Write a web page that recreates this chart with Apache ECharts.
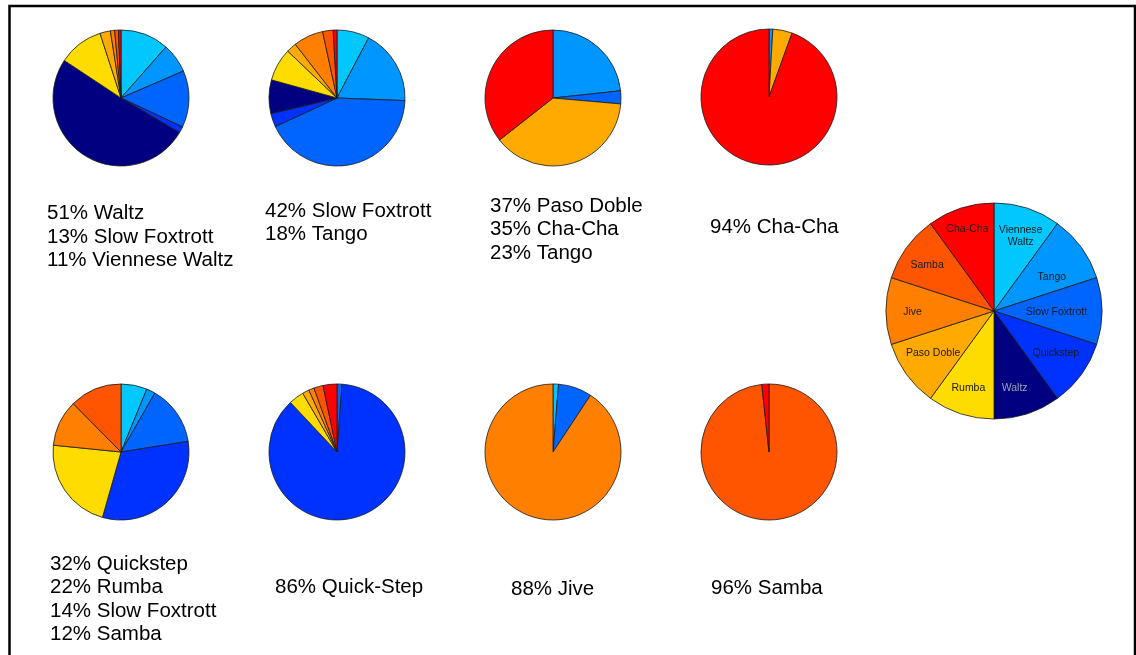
<!DOCTYPE html>
<html>
<head>
<meta charset="utf-8">
<script src="https://cdn.jsdelivr.net/npm/echarts@6/dist/echarts.min.js"></script>
<style>
  html, body { margin: 0; padding: 0; background: #fff; }
  #danceChart { width: 1136px; height: 655px; }
</style>
</head>
<body>
<div id="danceChart"></div>
<script>
// dances, clockwise from 12 o'clock
const dances = ['Viennese Waltz', 'Tango', 'Slow Foxtrott', 'Quickstep', 'Waltz',
                'Rumba', 'Paso Doble', 'Jive', 'Samba', 'Cha-Cha'];
const danceColors = ['#00c8ff', '#0096ff', '#0064ff', '#0032ff', '#000080',
                     '#ffdc00', '#ffaa00', '#ff8000', '#ff5500', '#ff0000'];

// share of each dance (%) per cluster
const shares1 = [11.5, 7, 13.5, 1.5, 50.8, 10.7, 2.5, 1, 0.9, 0.6];
const shares2 = [7.7, 17.9, 42.5, 3.2, 8, 7.8, 2.4, 7.1, 2.5, 0.9];
const shares3 = [0, 23.3, 3.1, 0, 0, 0, 38, 0, 0, 35.6];
const shares4 = [0, 0.9, 0, 0, 0, 0, 4.6, 0, 0, 94.5];
const shares5 = [6.2, 2.1, 14.2, 31.9, 0, 22.2, 0, 11, 12.4, 0];
const shares6 = [0, 0, 1.2, 86.8, 0, 3.6, 1.6, 1.3, 2.2, 3.3];
const shares7 = [1.3, 0, 8, 0, 0, 0, 0, 90.7, 0, 0];
const shares8 = [0, 0, 0, 0, 0, 0, 0, 0, 98.3, 1.7];
const legendShares = [1, 1, 1, 1, 1, 1, 1, 1, 1, 1];

// captions under each pie
const caption1 = ['51% Waltz', '13% Slow Foxtrott', '11% Viennese Waltz'];
const caption2 = ['42% Slow Foxtrott', '18% Tango'];
const caption3 = ['37% Paso Doble', '35% Cha-Cha', '23% Tango'];
const caption4 = ['94% Cha-Cha'];
const caption5 = ['32% Quickstep', '22% Rumba', '14% Slow Foxtrott', '12% Samba'];
const caption6 = ['86% Quick-Step'];
const caption7 = ['88% Jive'];
const caption8 = ['96% Samba'];

const allShares = [shares1, shares2, shares3, shares4, shares5, shares6, shares7, shares8];
const allCaptions = [caption1, caption2, caption3, caption4, caption5, caption6, caption7, caption8];

// layout
const pieCenters = [[121, 98], [337, 98], [553, 98], [769, 97],
                    [121, 452], [337, 452], [553, 452], [769, 452]];
const captionPos = [[47, 213.5], [265, 211], [490, 206], [710, 227],
                    [50, 564], [275, 587], [511, 589], [711, 588]];
const lineGap = 23.6;
const pieRadius = 68;
const legendCenter = [994, 311];
const legendRadius = 108;
// small nudges so the legend names sit where the original put them
const legendLabelNudge = [[3, -2], [-4, 11], [-14, 1], [0, -3], [-3, 4],
                          [-2, 4], [1, -3], [-5, 1], [-5, -1], [-3, -9]];
const FONT = '"Liberation Sans", Arial, Helvetica, sans-serif';

const chart = echarts.init(document.getElementById('danceChart'), null, { renderer: 'canvas' });

function sliceData(shares) {
  return dances.map((name, i) => ({
    name: name,
    value: shares[i],
    itemStyle: { color: danceColors[i] }
  })).filter(d => d.value > 0);
}

const series = allShares.map((shares, k) => ({
  type: 'pie',
  center: pieCenters[k],
  radius: [0, pieRadius],
  startAngle: 90,
  clockwise: true,
  silent: true,
  label: { show: false },
  labelLine: { show: false },
  itemStyle: { borderColor: '#1a1a1a', borderWidth: 0.8 },
  emphasis: { disabled: true },
  data: sliceData(shares)
}));

// legend pie: filled slices
series.push({
  type: 'pie',
  center: legendCenter,
  radius: [0, legendRadius],
  startAngle: 90,
  silent: true,
  label: { show: false },
  labelLine: { show: false },
  itemStyle: { borderColor: '#1a1a1a', borderWidth: 0.8 },
  emphasis: { disabled: true },
  data: sliceData(legendShares)
});
// legend pie: names, placed further out than the default inside position
series.push({
  type: 'pie',
  center: legendCenter,
  radius: [legendRadius * 0.36, legendRadius],
  startAngle: 90,
  silent: true,
  z: 5,
  labelLine: { show: false },
  itemStyle: { color: 'transparent', borderWidth: 0 },
  emphasis: { disabled: true },
  label: {
    show: true,
    position: 'inside',
    fontFamily: FONT,
    fontSize: 10.5,
    lineHeight: 12,
    color: '#1a1a1a',
    formatter: p => p.name === 'Viennese Waltz' ? 'Viennese\nWaltz' : p.name
  },
  data: dances.map((name, i) => ({
    name: name,
    value: legendShares[i],
    label: Object.assign(
      { offset: legendLabelNudge[i] },
      name === 'Waltz' ? { color: '#a0a0b4' } : {}
    )
  }))
});

const texts = [];
allCaptions.forEach((lines, k) => {
  lines.forEach((line, j) => {
    texts.push({
      type: 'text',
      x: captionPos[k][0],
      y: captionPos[k][1] + j * lineGap,
      silent: true,
      style: {
        text: line,
        font: '20.5px ' + FONT,
        fill: '#000',
        textAlign: 'left',
        textVerticalAlign: 'middle'
      }
    });
  });
});

const option = {
  animation: false,
  backgroundColor: '#ffffff',
  graphic: [
    {
      type: 'polyline',
      silent: true,
      shape: { points: [[9.5, 655], [9.5, 6], [1135, 6], [1135, 655]] },
      style: { stroke: '#000', lineWidth: 2.5, fill: null }
    }
  ].concat(texts),
  series: series
};

chart.setOption(option);
</script>
</body>
</html>
